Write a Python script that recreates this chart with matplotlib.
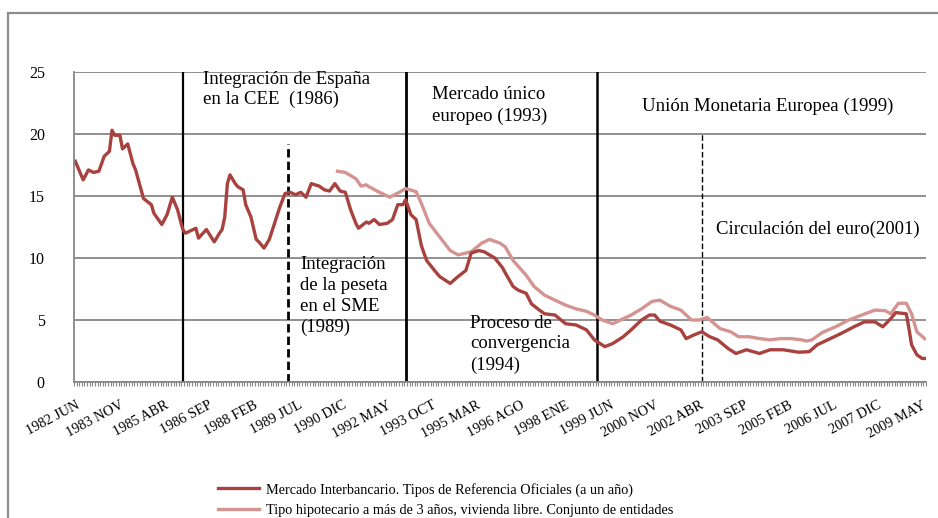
import matplotlib
matplotlib.use("Agg")
import matplotlib.pyplot as plt
from matplotlib.lines import Line2D
from matplotlib.patches import Rectangle
import numpy as np

plt.rcParams['font.family'] = ['Liberation Serif', 'DejaVu Serif']

# month index 0 = 1982 JUN
tick_labels = ['1982 JUN', '1983 NOV', '1985 ABR', '1986 SEP', '1988 FEB', '1989 JUL',
               '1990 DIC', '1992 MAY', '1993 OCT', '1995 MAR', '1996 AGO', '1998 ENE',
               '1999 JUN', '2000 NOV', '2002 ABR', '2003 SEP', '2005 FEB', '2006 JUL',
               '2007 DIC', '2009 MAY']
n_months = 325

interbank_month = [0, 3, 5, 7, 9, 11, 13, 14, 15, 17, 18, 20, 22, 23, 26, 29, 30, 33, 35, 37,
                   39, 41, 42, 46, 47, 50, 53, 55, 56, 57, 58, 59, 61, 62, 64, 65, 67, 69, 70, 72,
                   74, 76, 78, 80, 82, 84, 86, 88, 90, 93, 95, 97, 99, 101, 103, 105, 107, 108,
                   111, 112, 114, 116, 119, 121, 123, 125, 126, 128, 130, 132, 134, 137, 139,
                   143, 146, 149, 151, 154, 156, 160, 163, 164, 167, 169, 172, 174, 177, 179,
                   183, 187, 191, 195, 198, 202, 205, 209, 212, 216, 219, 221, 223, 227, 231,
                   233, 236, 239, 242, 245, 249, 252, 256, 261, 265, 270, 276, 280, 283, 287,
                   292, 297, 301, 305, 308, 311, 313, 317, 318, 319, 321, 323, 324]
interbank_rate = [17.8, 16.3, 17.1, 16.9, 17.0, 18.2, 18.6, 20.3, 19.9, 19.9, 18.8, 19.2, 17.6,
                  17.1, 14.8, 14.3, 13.6, 12.7, 13.5, 14.9, 13.9, 12.3, 12.0, 12.4, 11.6, 12.3,
                  11.3, 12.0, 12.3, 13.3, 16.0, 16.7, 16.0, 15.75, 15.5, 14.3, 13.3, 11.5, 11.3,
                  10.8, 11.5, 12.8, 14.1, 15.2, 15.3, 15.1, 15.3, 14.9, 16.0, 15.8, 15.5, 15.4,
                  16.0, 15.4, 15.3, 13.9, 12.8, 12.4, 12.9, 12.8, 13.1, 12.7, 12.8, 13.1, 14.3,
                  14.3, 14.7, 13.5, 13.1, 11.0, 9.8, 9.0, 8.5, 7.95, 8.5, 9.0, 10.4, 10.6, 10.5,
                  10.0, 9.2, 8.8, 7.7, 7.4, 7.15, 6.3, 5.8, 5.5, 5.4, 4.7, 4.6, 4.2, 3.4, 2.85,
                  3.1, 3.65, 4.2, 5.0, 5.4, 5.4, 4.9, 4.6, 4.2, 3.5, 3.8, 4.05, 3.65, 3.4, 2.7,
                  2.3, 2.6, 2.3, 2.6, 2.6, 2.4, 2.45, 3.0, 3.4, 3.9, 4.45, 4.85, 4.85, 4.45, 5.1,
                  5.6, 5.5, 4.3, 3.0, 2.2, 1.9, 1.9]

mortgage_month = [100, 103, 107, 109, 111, 112, 116, 120, 124, 126, 130, 132, 135, 139, 143,
                  146, 151, 155, 158, 162, 164, 167, 172, 175, 179, 183, 187, 191, 195, 198,
                  201, 205, 208, 212, 216, 220, 223, 227, 231, 235, 238, 241, 246, 250, 253,
                  257, 261, 265, 269, 273, 277, 279, 281, 285, 290, 295, 300, 305, 309, 311,
                  314, 317, 319, 321, 324]
mortgage_rate = [17.0, 16.9, 16.4, 15.8, 15.9, 15.75, 15.3, 14.9, 15.35, 15.6, 15.35, 14.4,
                 12.8, 11.7, 10.6, 10.25, 10.5, 11.2, 11.5, 11.2, 10.9, 9.8, 8.6, 7.7, 7.0, 6.6,
                 6.2, 5.9, 5.7, 5.4, 5.0, 4.7, 5.0, 5.4, 5.9, 6.5, 6.6, 6.1, 5.8, 5.0, 5.0, 5.2,
                 4.3, 4.05, 3.65, 3.65, 3.5, 3.4, 3.5, 3.5, 3.4, 3.3, 3.4, 4.0, 4.45, 5.0, 5.4,
                 5.8, 5.75, 5.5, 6.35, 6.35, 5.5, 4.05, 3.5]

event_month = [41, 81, 126, 199, 239]

dark = '#A8423F'
light = '#D49492'
grid_gray = '#878787'

fig = plt.figure(figsize=(9.38, 5.18), dpi=100)
fig.patches.append(Rectangle((8 / 938, -0.1), 1.2, (518 - 13) / 518 + 0.1,
                             transform=fig.transFigure, fill=False,
                             edgecolor='#8c8c8c', linewidth=1.6))
ax = fig.add_axes([74 / 938, (518 - 382) / 518, 852 / 938, 310 / 518])

ax.set_xlim(-0.5, n_months - 0.5)
ax.set_ylim(0, 25)
ax.set_yticks(range(0, 26, 5))
ax.yaxis.grid(True, color=grid_gray, linewidth=1.3)
ax.set_axisbelow(True)
for s in ['top', 'right']:
    ax.spines[s].set_visible(False)
ax.spines['left'].set_color(grid_gray)
ax.spines['left'].set_linewidth(1.3)
ax.spines['bottom'].set_color(grid_gray)
ax.spines['bottom'].set_linewidth(1.3)
ax.tick_params(axis='y', length=0, pad=21, labelsize=11.5)

ax.set_xticks(np.arange(0, n_months, 17))
ax.set_xticklabels(tick_labels, rotation=28, ha='right', va='top',
                   rotation_mode='anchor', fontsize=10.3)
ax.set_xticks(np.arange(-0.5, n_months, 1), minor=True)
ax.tick_params(axis='x', which='major', length=0, pad=12)
ax.tick_params(axis='x', which='minor', length=3, color=grid_gray, width=0.8)

# event lines
ax.axvline(event_month[0], color='black', linewidth=1.6)
ax.axvline(event_month[2], color='black', linewidth=2.0)
ax.axvline(event_month[3], color='black', linewidth=1.8)
ax.plot([event_month[1]] * 2, [0, 19.2], color='black', linewidth=2.0, linestyle=(0, (3, 1.5)))
ax.plot([event_month[4]] * 2, [0, 20], color='black', linewidth=1.0, linestyle=(0, (4, 2)))

ax.plot(mortgage_month, mortgage_rate, color=light, linewidth=2.4, solid_joinstyle='round')
ax.plot(interbank_month, interbank_rate, color=dark, linewidth=2.4, solid_joinstyle='round')

fs = 13.5
ax.text(48.7, 23.55, 'Integración de España\nen la CEE  (1986)', fontsize=fs,
        va='center', ha='left', linespacing=1.2)
ax.text(136, 22.3, 'Mercado único\neuropeo (1993)', fontsize=fs,
        va='center', ha='left', linespacing=1.3)
ax.text(216.3, 22.2, 'Unión Monetaria Europea (1999)', fontsize=fs, va='center', ha='left')
ax.text(85.8, 6.9, 'Integración\nde la peseta\nen el SME\n(1989)', fontsize=fs,
        va='center', ha='left', linespacing=1.3)
ax.text(244.5, 12.3, 'Circulación del euro(2001)', fontsize=fs, va='center', ha='left')
ax.text(150.6, 3.05, 'Proceso de\nconvergencia\n(1994)', fontsize=fs,
        va='center', ha='left', linespacing=1.3)

handles = [Line2D([], [], color=dark, linewidth=2.4),
           Line2D([], [], color=light, linewidth=2.4)]
labels = ['Mercado Interbancario. Tipos de Referencia Oficiales (a un año)',
          'Tipo hipotecario a más de 3 años, vivienda libre. Conjunto de entidades']
fig.legend(handles, labels, loc='upper left', bbox_to_anchor=(212 / 938, 1 - 477 / 518),
           frameon=False, fontsize=10.3, handlelength=2.9, handletextpad=0.5,
           labelspacing=0.5, borderaxespad=0)

fig.savefig('out.png', dpi=100)
